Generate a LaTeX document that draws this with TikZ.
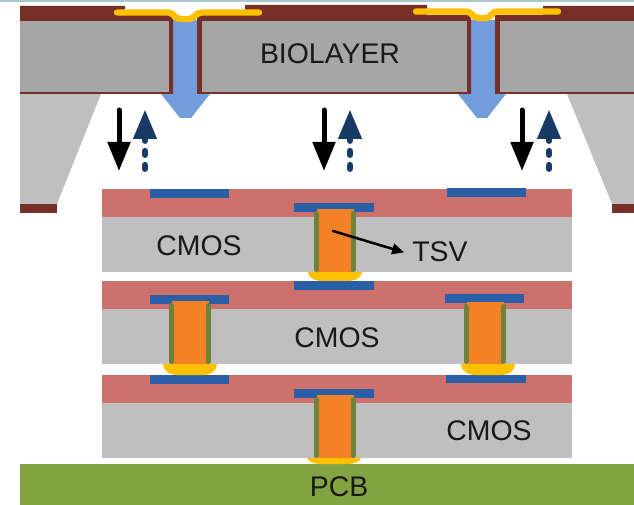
\documentclass[tikz,border=0pt]{standalone}
\usepackage{fontspec}
\setmainfont{Liberation Sans}
\usetikzlibrary{arrows.meta}
\definecolor{brn}{HTML}{772F2A}
\definecolor{gdark}{HTML}{A6A6A6}
\definecolor{glight}{HTML}{BFBFBF}
\definecolor{chan}{HTML}{729FDC}
\definecolor{yel}{HTML}{FFC000}
\definecolor{redl}{HTML}{CC716B}
\definecolor{pad}{HTML}{2A5FA8}
\definecolor{orng}{HTML}{F38226}
\definecolor{wall}{HTML}{6F8239}
\definecolor{pcbg}{HTML}{84A444}
\definecolor{navy}{HTML}{173A66}
\definecolor{teal}{HTML}{A9C9CA}
\tikzset{
  x=0.75pt,y=-0.75pt,
  lbl/.style={font=\fontsize{21.3}{25}\selectfont,text=black!90,inner sep=0pt},
  downarrow/.style={draw=black,line width=3.75pt,line cap=round,-{Triangle[length=21.75pt,width=16.5pt]}},
  uparrow/.style={draw=navy,line width=5.2pt,line cap=round,dash pattern=on 2.4pt off 8.1pt,-{Triangle[length=22.5pt,width=16.5pt]}},
  walls/.style={draw=wall,line width=3.75pt,line cap=round},
  solder/.style={draw=yel,line width=4.8pt,line cap=round,line join=round},
}
\newcommand{\tsvcol}[4]{% left x of core, right x of core, top y, bottom y
  \fill[orng] (#1,#3) rectangle (#2,#4);
  \draw[walls] (#1-0.5,#3+4.5) -- (#1-0.5,#4-2.5);
  \draw[walls] (#2+0,#3+4.5) -- (#2+0,#4-2.5);
}
\newcommand{\bump}[3]{% centre x, top y, bottom y
  \fill[yel] (#1-27,#2) .. controls (#1-26,#3-2) and (#1-19,#3) .. (#1-13,#3) -- (#1+13,#3) .. controls (#1+19,#3) and (#1+26,#3-2) .. (#1+27,#2) -- cycle;
}
\begin{document}
\begin{tikzpicture}
\useasboundingbox (0,0) rectangle (634,505);
\fill[white] (0,0) rectangle (634,505);
\fill[teal] (0,0) rectangle (634,2);

% lower support wedges
\fill[glight] (20,94) -- (101,94) -- (57,204) -- (20,204) -- cycle;
\fill[glight] (567,94) -- (634,94) -- (634,204) -- (612,204) -- cycle;
\fill[brn] (20,204) rectangle (57,213);
\fill[brn] (612,204) rectangle (634,213);

% channels
\fill[chan] (173,20) -- (197,20) -- (197,94) -- (210,94) -- (191,118) -- (180,118) -- (161,94) -- (173,94) -- cycle;
\fill[chan] (471,20) -- (495,20) -- (495,94) -- (506,94) -- (487,118) -- (477,118) -- (458,94) -- (471,94) -- cycle;

% biolayer brown
\fill[brn] (20,6) -- (125,6) -- (125,15) -- (173,15) -- (173,94) -- (20,94) -- cycle;
\fill[brn] (197,15) -- (245,15) -- (245,5) -- (427,5) -- (427,15) -- (471,15) -- (471,94) -- (197,94) -- cycle;
\fill[brn] (495,15) -- (543,15) -- (543,6) -- (634,6) -- (634,94) -- (495,94) -- cycle;
% biolayer grey
\fill[gdark] (20,21) rectangle (169,92);
\fill[gdark] (202,21) rectangle (467,92);
\fill[gdark] (500,21) rectangle (634,92);

% gold contacts
\draw[solder] (117,12.5) -- (168,12.5) .. controls (174,12.5) and (174,19) .. (181,19) -- (189,19) .. controls (195,19) and (195,12.5) .. (202,12.5) -- (259,12.5);
\draw[solder] (416,11.5) -- (466,11.5) .. controls (472,11.5) and (472,18) .. (479,18) -- (485,18) .. controls (492,18) and (491,11.5) .. (498,11.5) -- (558,11.5);

% CMOS layers
\foreach \t in {189,281,375}{
  \fill[redl] (102,\t) rectangle (572,\t+28);
  \fill[glight] (102,\t+28) rectangle (572,\t+83);
}
\fill[pcbg] (20,464) rectangle (634,505);

% pads
\fill[pad] (150,189) rectangle (229,198);
\fill[pad] (447,188) rectangle (526,197);
\fill[pad] (294,203) rectangle (374,212);
\fill[pad] (294,281) rectangle (374,290);
\fill[pad] (150,295) rectangle (229,304);
\fill[pad] (150,375) rectangle (229,384);
\fill[pad] (445,294) rectangle (524,303);
\fill[pad] (446,375) rectangle (526,383);
\fill[pad] (294,389) rectangle (374,398);

% bumps
\bump{335}{272}{281}
\bump{190}{364}{375}
\bump{488}{364}{375}
\bump{334}{458}{464}

% vias
\tsvcol{316.5}{353.5}{209}{272}
\tsvcol{171.5}{208.5}{301}{364}
\tsvcol{466.5}{503.5}{302}{364}
\tsvcol{316.5}{353.5}{395}{458}

% labels
\node[lbl] (bio) at (330,54) {BIOLAYER};
\node[lbl] (cmosa) at (199,246) {CMOS};
\node[lbl] (tsv) at (440,252) {TSV};
\node[lbl] (cmosb) at (337,338) {CMOS};
\node[lbl] (cmosc) at (489,431) {CMOS};
\node[lbl] (pcb) at (339,487) {PCB};

% TSV pointer
\coordinate (tsvstart) at (333,231);
\draw[black,line width=1.9pt,line cap=round,-{Triangle[length=9pt,width=8pt]}] (tsvstart) -- ([xshift=-6pt,yshift=-0.3pt]tsv.west);

% flow arrows
\foreach \n/\xa/\xb in {a/119/145,b/324/350,c/522/549}{
  \coordinate (d\n s) at (\xa,110);
  \coordinate (d\n e) at (\xa,171);
  \draw[downarrow] (d\n s) -- (d\n e);
  \coordinate (u\n s) at (\xb,168.5);
  \coordinate (u\n e) at (\xb,109);
  \draw[uparrow] (u\n s) -- (u\n e);
}
\end{tikzpicture}
\end{document}
